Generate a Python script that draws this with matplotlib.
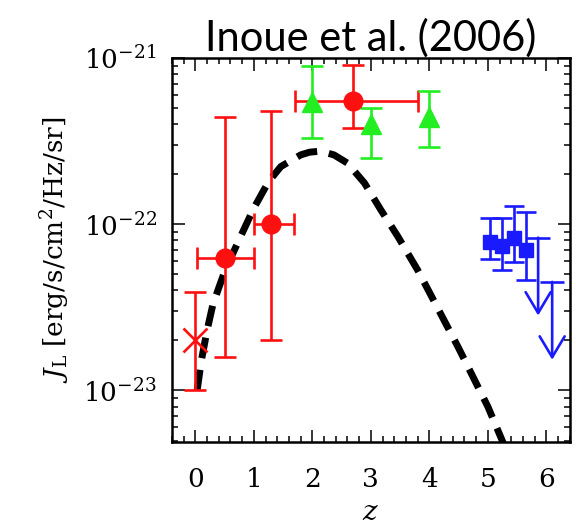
import numpy as np
import matplotlib
matplotlib.use("Agg")
import matplotlib.pyplot as plt
from matplotlib.patches import FancyArrowPatch
from matplotlib.ticker import LogLocator, MultipleLocator, NullFormatter, FixedLocator

plt.rcParams['font.family'] = 'DejaVu Serif'
plt.rcParams['mathtext.fontset'] = 'dejavuserif'

# Modell (stiplet kurve)
model_z = [0.03, 0.1, 0.2, 0.3, 0.5, 0.75, 1.0, 1.25, 1.46, 1.8, 1.95, 2.09, 2.22,
           2.37, 2.6, 2.89, 3.17, 3.46, 3.8, 4.0, 4.5, 5.0, 5.3]
model_J = [1.0e-23, 1.5e-23, 2.3e-23, 3.3e-23, 5.2e-23, 8.1e-23, 1.25e-22, 1.8e-22,
           2.22e-22, 2.61e-22, 2.71e-22, 2.74e-22, 2.7e-22, 2.61e-22, 2.33e-22,
           1.77e-22, 1.22e-22, 8.45e-23, 5.3e-23, 3.9e-23, 1.8e-23, 8.0e-24, 4.5e-24]

# Rode punkter
red_z = [0.5, 1.3, 2.7]
red_J = [6.3e-23, 1.0e-22, 5.5e-22]
red_zlo = [0.47, 0.3, 1.0]
red_zhi = [0.5, 0.38, 1.1]
red_Jlo = [1.6e-23, 2.0e-23, 3.8e-22]
red_Jhi = [4.4e-22, 4.8e-22, 9.1e-22]

# Rodt kryss ved z=0
cross_z = [0.0]
cross_J = [2.0e-23]
cross_Jlo = [1.0e-23]
cross_Jhi = [3.9e-23]

# Gronne trekanter
green_z = [2.0, 3.0, 4.0]
green_J = [5.4e-22, 4.0e-22, 4.4e-22]
green_Jlo = [3.3e-22, 2.5e-22, 2.9e-22]
green_Jhi = [8.9e-22, 5.0e-22, 6.3e-22]

# Blaa kvadrater
blue_z = [5.03, 5.24, 5.45, 5.66]
blue_J = [7.8e-23, 7.4e-23, 8.3e-23, 7.0e-23]
blue_Jlo = [6.2e-23, 5.3e-23, 5.9e-23, 4.6e-23]
blue_Jhi = [1.09e-22, 1.09e-22, 1.28e-22, 1.18e-22]

# Ovre grenser
lim_z = [5.86, 6.10]
lim_J = [8.3e-23, 4.5e-23]

xticks = [0, 1, 2, 3, 4, 5, 6]
yticks = [1e-23, 1e-22, 1e-21]

RED = '#ff1010'
GREEN = '#22ee22'
BLUE = '#1a1aff'
LW = 1.9


def err(v, lo, hi):
    v = np.array(v)
    return [v - np.array(lo), np.array(hi) - v]


fig = plt.figure(figsize=(5.76, 5.29), dpi=100)
ax = fig.add_axes([0.2986, 0.1645, 0.6905, 0.726])

ax.plot(model_z, model_J, color='black', lw=5, ls=(0, (3.0, 1.7)))

ax.errorbar(cross_z, cross_J, yerr=err(cross_J, cross_Jlo, cross_Jhi), fmt='x',
            color=RED, ms=17, mew=LW, elinewidth=LW, capsize=8, capthick=LW)
ax.errorbar(red_z, red_J, yerr=err(red_J, red_Jlo, red_Jhi),
            xerr=[red_zlo, red_zhi], fmt='o', color=RED, ms=13.5,
            elinewidth=LW, capsize=8, capthick=LW)
ax.errorbar(green_z, green_J, yerr=err(green_J, green_Jlo, green_Jhi), fmt='^',
            color=GREEN, ms=15, elinewidth=LW, capsize=8, capthick=LW)
ax.errorbar(blue_z, blue_J, yerr=err(blue_J, blue_Jlo, blue_Jhi), fmt='s',
            color=BLUE, ms=10.5, elinewidth=LW, capsize=7, capthick=LW)

for z, J in zip(lim_z, lim_J):
    ax.plot([z], [J], marker='_', ms=17, mew=LW, color=BLUE)
    arr = FancyArrowPatch((z, J), (z, J * 0.34),
                          arrowstyle='->,head_length=0.75,head_width=0.45',
                          mutation_scale=20, color=BLUE, lw=LW,
                          shrinkA=0, shrinkB=0)
    ax.add_patch(arr)

ax.set_yscale('log')
ax.set_xlim(-0.4, 6.4)
ax.set_ylim(4.9e-24, 1e-21)

ax.xaxis.set_major_locator(FixedLocator(xticks))
ax.xaxis.set_minor_locator(MultipleLocator(0.2))
ax.yaxis.set_major_locator(FixedLocator(yticks))
ax.yaxis.set_minor_locator(LogLocator(base=10, subs=np.arange(2, 10), numticks=20))
ax.yaxis.set_minor_formatter(NullFormatter())

ax.tick_params(which='both', direction='in', top=True, right=True, width=1.1,
               labelsize=19)
ax.tick_params(which='major', length=9)
ax.tick_params(axis='x', which='major', pad=18)
ax.tick_params(axis='y', which='major', pad=11)
ax.tick_params(which='minor', length=4.5)
for s in ax.spines.values():
    s.set_linewidth(1.8)

ax.set_xlabel('$z$', fontsize=20, labelpad=5)
ax.set_ylabel(r'$J_{\rm L}$ [erg/s/cm$^2$/Hz/sr]', fontsize=19, labelpad=8)
ax.set_title('Inoue et al. (2006)', family='Lato', fontsize=30, pad=2)

fig.savefig('out.png', dpi=100)
